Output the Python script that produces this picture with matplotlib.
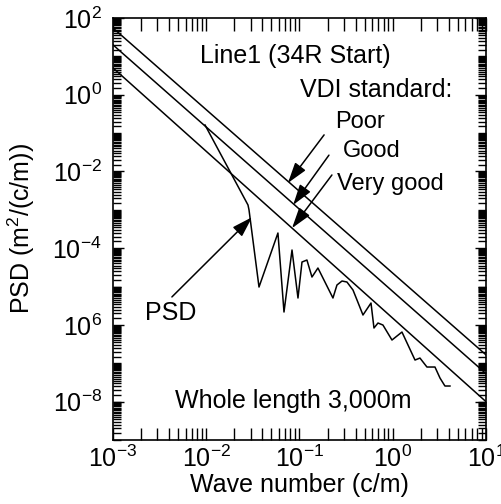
import numpy as np
import matplotlib
matplotlib.use("Agg")
import matplotlib.pyplot as plt
from matplotlib.ticker import FixedLocator, LogLocator, NullFormatter

plt.rcParams['font.family'] = 'Liberation Sans'
plt.rcParams['mathtext.fontset'] = 'custom'
plt.rcParams['mathtext.rm'] = 'Liberation Sans'
plt.rcParams['mathtext.it'] = 'Liberation Sans:italic'
plt.rcParams['font.size'] = 18

# VDI standard limit lines (log10 of PSD at both ends of the wave number range)
vdi_x = [1e-3, 1e1]
poor_exp = [1.74, -6.78]
good_exp = [1.30, -7.27]
very_good_exp = [0.70, -8.00]

# measured PSD, log10 of wave number and of PSD
psd_x_exp = [-2.013, -1.552, -1.541, -1.434, -1.231, -1.166, -1.080, -1.016,
             -0.973, -0.920, -0.866, -0.802, -0.641, -0.598, -0.544, -0.491,
             -0.426, -0.383, -0.319, -0.233, -0.201, -0.158, -0.105, -0.008,
             0.099, 0.164, 0.239, 0.292, 0.367, 0.453, 0.507, 0.560, 0.614]
psd_y_exp = [-0.789, -2.875, -3.005, -5.013, -3.605, -5.664, -4.048, -5.299,
             -4.361, -4.309, -4.752, -4.517, -5.299, -4.960, -4.856, -4.882,
             -5.091, -5.351, -5.742, -5.430, -6.081, -5.951, -6.003, -6.394,
             -6.186, -6.525, -6.916, -6.864, -7.098, -7.098, -7.385, -7.593,
             -7.593]

x_ticks = [1e-3, 1e-2, 1e-1, 1e0, 1e1]
x_tick_text = ['-3', '-2', '-1', '0', '1']
y_ticks = [1e2, 1e0, 1e-2, 1e-4, 1e-6, 1e-8]
y_tick_text = ['2', '0', '-2', '-4', '6', '-8']

fig = plt.figure(figsize=(5.01, 5.04), dpi=100)
ax = fig.add_axes([0.2255, 0.127, 0.7445, 0.8373])

lw = 1.1
for ys in (poor_exp, good_exp, very_good_exp):
    ax.plot(vdi_x, 10.0 ** np.array(ys), color='k', lw=lw)
ax.plot(10.0 ** np.array(psd_x_exp), 10.0 ** np.array(psd_y_exp), color='k', lw=lw)

ax.set_xscale('log')
ax.set_yscale('log')
ax.set_xlim(1e-3, 1e1)
ax.set_ylim(1e-9, 1e2)

ax.xaxis.set_major_locator(FixedLocator(x_ticks))
ax.set_xticklabels([r'$\mathregular{10^{%s}}$' % t for t in x_tick_text])
ax.xaxis.set_minor_locator(LogLocator(base=10, subs=np.arange(2, 10), numticks=50))
ax.xaxis.set_minor_formatter(NullFormatter())

ax.yaxis.set_major_locator(FixedLocator(y_ticks))
ax.set_yticklabels([r'$\mathregular{10^{%s}}$' % t for t in y_tick_text])
ax.yaxis.set_minor_locator(LogLocator(base=10, subs=np.arange(1.0, 10, 0.5), numticks=50))
ax.yaxis.set_minor_formatter(NullFormatter())

ax.tick_params(which='both', direction='in', top=True, right=True, width=1.0, labelsize=18)
ax.tick_params(axis='x', which='both', length=9, pad=4)
ax.tick_params(axis='y', which='major', length=8, pad=8)
ax.tick_params(axis='y', which='minor', length=6)
for s in ax.spines.values():
    s.set_linewidth(1.2)

ax.set_xlabel('Wave number (c/m)', fontsize=18, labelpad=1)
ax.set_ylabel(r'PSD (m$^2$/(c/m))', fontsize=18, labelpad=11)

tr = ax.transAxes
ax.text(0.233, 0.893, 'Line1 (34R Start)', transform=tr)
ax.text(0.501, 0.813, 'VDI standard:', transform=tr)
ax.text(0.595, 0.739, 'Poor', transform=tr, fontsize=17)
ax.text(0.617, 0.671, 'Good', transform=tr, fontsize=17)
ax.text(0.600, 0.592, 'Very good', transform=tr, fontsize=17)
ax.text(0.086, 0.284, 'PSD', transform=tr)
ax.text(0.166, 0.076, 'Whole length 3,000m', transform=tr)

arrow = dict(arrowstyle='-|>,head_length=0.7,head_width=0.22', mutation_scale=18,
             color='k', lw=1.1, shrinkA=0, shrinkB=0)
ax.annotate('', xy=(0.469, 0.609), xytext=(0.566, 0.723), xycoords=tr, textcoords=tr, arrowprops=arrow)
ax.annotate('', xy=(0.483, 0.557), xytext=(0.579, 0.675), xycoords=tr, textcoords=tr, arrowprops=arrow)
ax.annotate('', xy=(0.480, 0.502), xytext=(0.587, 0.628), xycoords=tr, textcoords=tr, arrowprops=arrow)
ax.annotate('', xy=(0.373, 0.528), xytext=(0.158, 0.339), xycoords=tr, textcoords=tr, arrowprops=arrow)

fig.savefig('out.png', dpi=100)
